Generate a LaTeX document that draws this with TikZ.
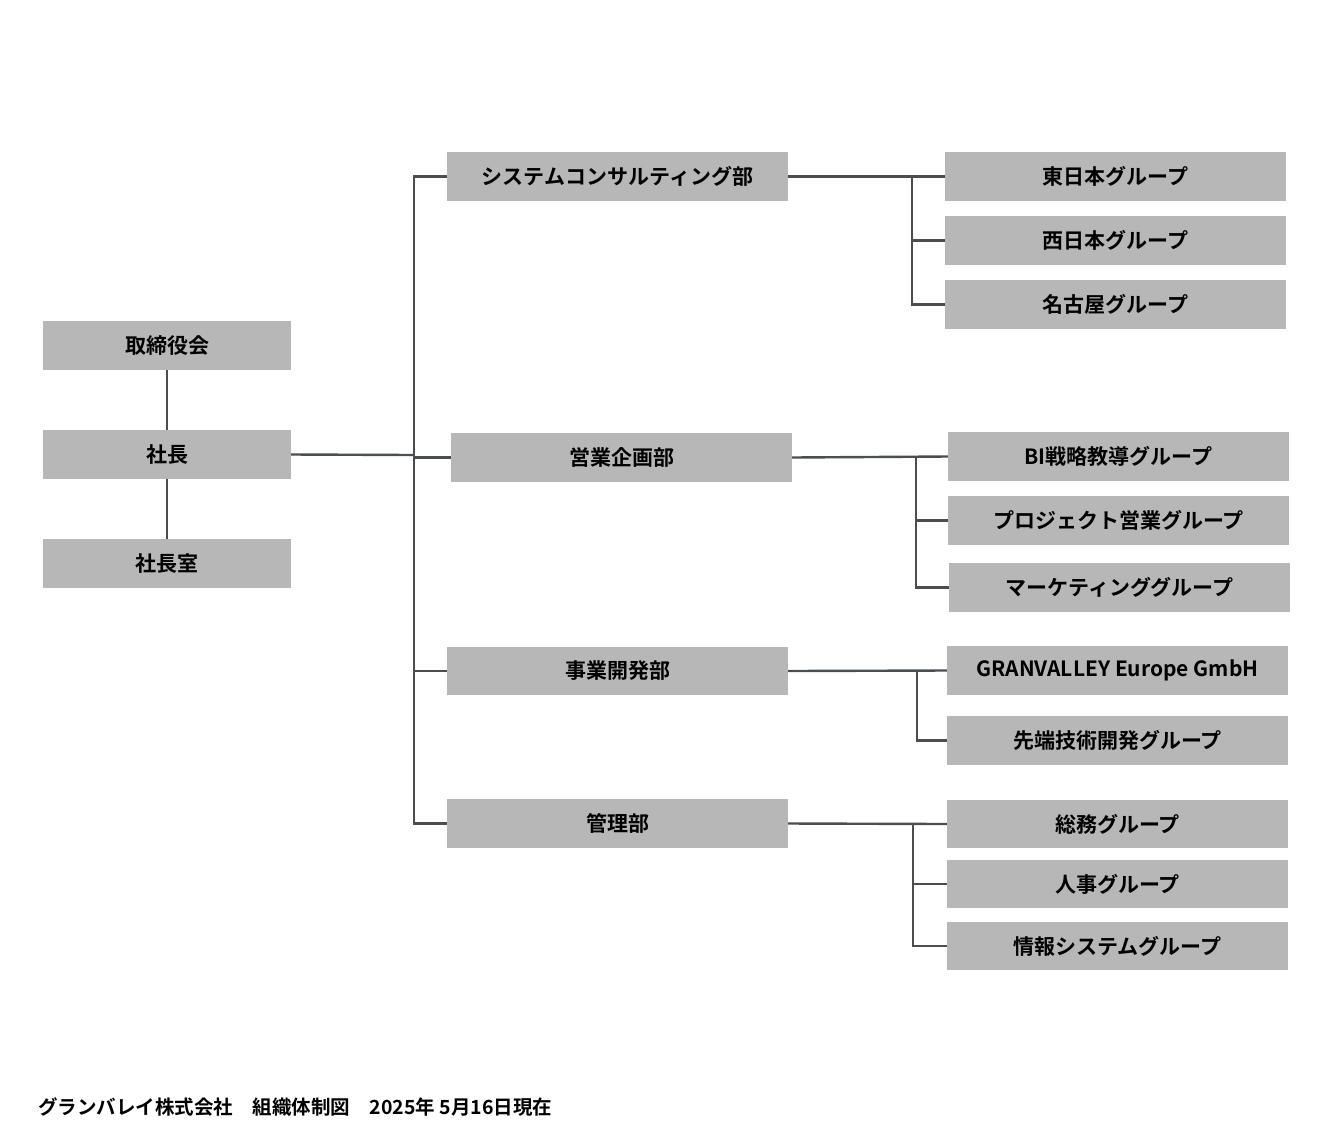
\documentclass[tikz,border=0pt]{standalone}
\usepackage{fontspec}
\setmainfont{Noto Sans CJK JP}[BoldFont={* Bold}]
\begin{document}
\begin{tikzpicture}[x=1pt,y=-1pt,
  bx/.style={fill=boxgray,draw=none,inner sep=0,font=\fontsize{21}{24}\selectfont\bfseries,text=black},
  ln/.style={draw=linegray,line width=2.4pt}]
\definecolor{boxgray}{HTML}{B7B7B7}
\definecolor{linegray}{HTML}{4A4D52}
\useasboundingbox (0,0) rectangle (1330,1144);
\newcommand{\bxn}[6]{\node[bx,minimum width={#4-#3},minimum height={#6-#5}] (#1) at ({(#3+#4)/2},{(#5+#6)/2}) {\raisebox{-3pt}{#2}};}
\bxn{tori}{取締役会}{43}{291}{321}{370}
\bxn{sha}{社長}{43}{291}{430}{479}
\bxn{shashitsu}{社長室}{43}{291}{539}{588}
\bxn{d1}{システムコンサルティング部}{447}{788}{152}{201}
\bxn{d2}{営業企画部}{451}{792}{433}{482}
\bxn{d3}{事業開発部}{447}{788}{647}{695}
\bxn{d4}{管理部}{447}{788}{799}{848}
\bxn{g11}{東日本グループ}{945}{1286}{152}{201}
\bxn{g12}{西日本グループ}{945}{1286}{216}{265}
\bxn{g13}{名古屋グループ}{945}{1286}{280}{329}
\bxn{g21}{BI戦略教導グループ}{948}{1289}{432}{481}
\bxn{g22}{プロジェクト営業グループ}{948}{1289}{496}{545}
\bxn{g23}{マーケティンググループ}{949}{1290}{563}{612}
\bxn{g31}{GRANVALLEY Europe GmbH}{947}{1288}{646}{695}
\bxn{g32}{先端技術開発グループ}{947}{1288}{716}{765}
\bxn{g41}{総務グループ}{947}{1288}{800}{848}
\bxn{g42}{人事グループ}{947}{1288}{860}{908}
\bxn{g43}{情報システムグループ}{947}{1288}{922}{970}
\draw[ln] (tori.south) -- (sha.north);
\draw[ln] (sha.south) -- (shashitsu.north);
\coordinate (tr) at (414,455);
\draw[ln] (sha.east) -- (tr);
\draw[ln] (d1.west) -- (414,176.5) -- (414,823.5) -- (d4.west);
\draw[ln] (414,457.5) -- (d2.west);
\draw[ln] (414,671) -- (d3.west);
\draw[ln] (d1.east) -- (g11.west);
\draw[ln] (912,176.5) |- (g13.west);
\draw[ln] (912,240.5) -- (g12.west);
\draw[ln] (d2.east) -- (g21.west);
\draw[ln] (916,456.5) |- (g23.west);
\draw[ln] (916,520.5) -- (g22.west);
\draw[ln] (d3.east) -- (g31.west);
\draw[ln] (917,670.5) |- (g32.west);
\draw[ln] (d4.east) -- (g41.west);
\draw[ln] (913,824) |- (g43.west);
\draw[ln] (913,884) -- (g42.west);
\node[anchor=west,inner sep=0,font=\fontsize{19.5}{22}\selectfont\bfseries] (foot) at (38,1107) {グランバレイ株式会社　組織体制図　2025年 5月16日現在};
\end{tikzpicture}
\end{document}
